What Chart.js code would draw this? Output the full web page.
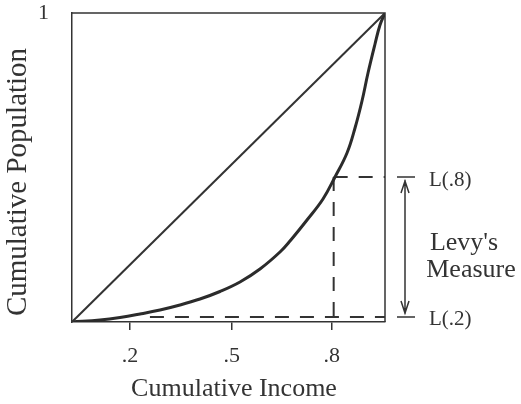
<!DOCTYPE html>
<html>
<head>
<meta charset="utf-8">
<script src="https://cdn.jsdelivr.net/npm/chart.js@4.4.0/dist/chart.umd.min.js"></script>
<style>
html,body{margin:0;padding:0;background:#fff;}
#wrap{width:521px;height:404px;position:relative;}
</style>
</head>
<body>
<div id="wrap"><canvas id="c" width="521" height="404"></canvas></div>
<script>
// ---- data ----
// Lorenz curve: cumulative income share (x) vs cumulative population share (y)
const lorenzX = [0, 0.0895, 0.1534, 0.2173, 0.2812, 0.3450, 0.4089, 0.4728, 0.5367, 0.6006, 0.6645, 0.6965, 0.7508, 0.8019, 0.8403, 0.8786, 0.9042, 0.9265, 0.9457, 0.9681, 0.9840, 1];
const lorenzY = [0, 0.0065, 0.0146, 0.0259, 0.0388, 0.0550, 0.0744, 0.0987, 0.1294, 0.1715, 0.2265, 0.2621, 0.3301, 0.3981, 0.4693, 0.5469, 0.6278, 0.7152, 0.8058, 0.8997, 0.9612, 1];
// line of equality
const equalityX = [0, 1];
const equalityY = [0, 1];
// Levy's measure markers (as drawn)
const L2 = 0.016;        // L(.2)
const L8 = 0.469;        // L(.8)
const L2startX = 0.249;  // where the L(.2) dashed line begins
const L8x = 0.836;       // x of the vertical dashed line at .8
// tick labels (positions as drawn on the axis)
const xTickPos = [0.185, 0.51, 0.83];
const xTickLabels = ['.2', '.5', '.8'];
const yTickPos = [1];
const yTickLabels = ['1'];
// texts
const xTitle = 'Cumulative Income';
const yTitle = 'Cumulative Population';
const labelL8 = 'L(.8)';
const labelL2 = 'L(.2)';
const measureLines = ["Levy's", 'Measure'];

const INK = '#333333';
const SERIF = '"Liberation Serif", "DejaVu Serif", serif';
Chart.defaults.font.family = SERIF;
Chart.defaults.color = INK;

const pts = (xs, ys) => xs.map((x, i) => ({x: x, y: ys[i]}));
const dash = [14, 11];

const annot = {
  id: 'annot',
  beforeDatasetsDraw(chart) {
    const {ctx, chartArea: a} = chart;
    ctx.save();
    ctx.strokeStyle = INK;
    ctx.lineWidth = 1.5;
    // top & right sides of the frame
    ctx.beginPath();
    ctx.moveTo(a.left, a.top);
    ctx.lineTo(a.right, a.top);
    ctx.lineTo(a.right, a.bottom);
    ctx.stroke();
    ctx.restore();
  },
  afterDraw(chart) {
    const {ctx, chartArea: a, scales} = chart;
    const ys = scales.y;
    const y8 = ys.getPixelForValue(L8);
    const y2 = ys.getPixelForValue(L2);
    const ax = a.right + 20;
    ctx.save();
    ctx.strokeStyle = INK;
    ctx.lineWidth = 1.5;
    // bars
    ctx.beginPath();
    ctx.moveTo(ax - 8, y8); ctx.lineTo(ax + 10, y8);
    ctx.moveTo(ax - 8, y2); ctx.lineTo(ax + 10, y2);
    // shaft
    ctx.moveTo(ax, y8 + 3); ctx.lineTo(ax, y2 - 3);
    // arrow heads
    ctx.moveTo(ax - 4, y8 + 16); ctx.lineTo(ax, y8 + 4); ctx.lineTo(ax + 4, y8 + 16);
    ctx.moveTo(ax - 4, y2 - 16); ctx.lineTo(ax, y2 - 4); ctx.lineTo(ax + 4, y2 - 16);
    ctx.stroke();

    ctx.fillStyle = INK;
    ctx.textBaseline = 'alphabetic';
    ctx.font = '21px ' + SERIF;
    ctx.textAlign = 'left';
    ctx.fillText(labelL8, 429, y8 + 9);
    ctx.fillText(labelL2, 429, y2 + 8);
    ctx.font = '26px ' + SERIF;
    ctx.textAlign = 'center';
    ctx.fillText(measureLines[0], 464, 250);
    ctx.fillText(measureLines[1], 471, 277);
    // axis titles
    ctx.fillText(xTitle, 234, 396);
    ctx.font = '29px ' + SERIF;
    ctx.translate(26, 182);
    ctx.rotate(-Math.PI / 2);
    ctx.fillText(yTitle, 0, 0);
    ctx.restore();
  }
};

new Chart(document.getElementById('c'), {
  type: 'scatter',
  data: {
    datasets: [
      {data: pts(equalityX, equalityY), showLine: true, borderColor: INK, borderWidth: 2, pointRadius: 0},
      {data: pts(lorenzX, lorenzY), showLine: true, borderColor: '#2b2b2b', borderWidth: 3, pointRadius: 0, tension: 0.4},
      {data: [{x: L2startX, y: L2}, {x: 1, y: L2}], showLine: true, borderColor: INK, borderWidth: 2, borderDash: dash, pointRadius: 0},
      {data: [{x: L8x, y: L8}, {x: 1, y: L8}], showLine: true, borderColor: INK, borderWidth: 2, borderDash: dash, pointRadius: 0},
      {data: [{x: L8x, y: L8}, {x: L8x, y: 0}], showLine: true, borderColor: INK, borderWidth: 2, borderDash: dash, pointRadius: 0}
    ]
  },
  options: {
    responsive: false,
    animation: false,
    devicePixelRatio: 1,
    layout: {padding: {left: 0, right: 136, top: 13, bottom: 0}},
    plugins: {legend: {display: false}, tooltip: {enabled: false}},
    scales: {
      x: {
        type: 'linear', min: 0, max: 1,
        afterFit: s => { s.height = 82; s.paddingLeft = 0; s.paddingRight = 0; },
        afterBuildTicks: s => { s.ticks = xTickPos.map(v => ({value: v})); },
        ticks: {
          callback: (v, i) => xTickLabels[i],
          font: {size: 22, family: SERIF}, color: INK, padding: 13, maxRotation: 0, autoSkip: false
        },
        grid: {drawOnChartArea: false, drawTicks: true, tickLength: 8, color: INK, lineWidth: 1.5},
        border: {display: true, color: INK, width: 1.5}
      },
      y: {
        type: 'linear', min: 0, max: 1,
        afterFit: s => { s.width = 72; s.paddingTop = 0; s.paddingBottom = 0; },
        afterBuildTicks: s => { s.ticks = yTickPos.map(v => ({value: v})); },
        ticks: {
          callback: (v, i) => yTickLabels[i],
          font: {size: 22, family: SERIF, lineHeight: 1}, color: INK, padding: 23, autoSkip: false
        },
        grid: {drawOnChartArea: false, drawTicks: false},
        border: {display: true, color: INK, width: 1.5}
      }
    }
  },
  plugins: [annot]
});
</script>
</body>
</html>
